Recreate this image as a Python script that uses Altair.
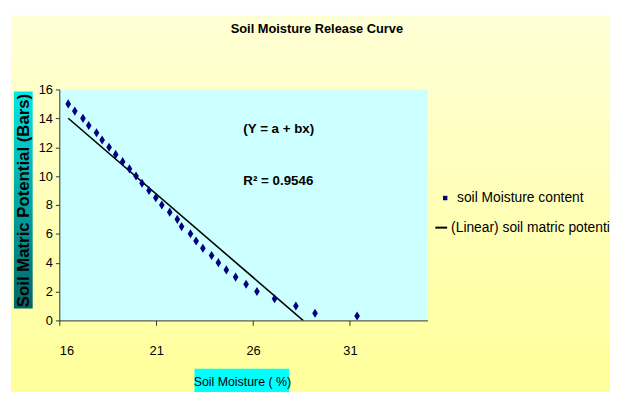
import altair as alt
import pandas as pd

# Data
soil_moisture = [16.46, 16.80, 17.22, 17.52, 17.92, 18.21, 18.57, 18.91, 19.27, 19.62,
                 19.96, 20.27, 20.63, 20.98, 21.29, 21.70, 22.09, 22.31, 22.77, 23.06,
                 23.41, 23.86, 24.21, 24.62, 25.10, 25.64, 26.20, 27.11, 28.21, 29.20, 31.37]
matric_potential = [15, 14.5, 14, 13.5, 13, 12.5, 12, 11.5, 11, 10.5,
                    10, 9.5, 9, 8.5, 8, 7.5, 7, 6.5, 6, 5.5,
                    5, 4.5, 4, 3.5, 3, 2.5, 2, 1.5, 1, 0.5, 0.3]
x_ticks = [16, 21, 26, 31]
y_ticks = [0, 2, 4, 6, 8, 10, 12, 14, 16]
series_points = "soil Moisture content"
series_line = "(Linear) soil matric potential"
title_text = "Soil Moisture Release Curve"
annotations = ["(Y = a + bx)", "R² = 0.9546"]

df = pd.DataFrame({"x": soil_moisture, "y": matric_potential, "s": series_points})

FONT = "Liberation Sans, Arial, sans-serif"
W, H = 373, 234

xs = alt.Scale(domain=[16, 35], nice=False, zero=False)
ys = alt.Scale(domain=[0, 16], nice=False)

x_axis = alt.Axis(values=x_ticks, title="Soil Moisture ( %)", grid=False,
                  tickSize=5, labelPadding=20, titleX=185, titleY=62,
                  titleBaseline="middle", zindex=1, labelOverlap=False)
y_axis = alt.Axis(values=y_ticks, title="Soil Matric Potential (Bars)", grid=False,
                  tickSize=4, labelPadding=3, titleX=-36, titleY=112,
                  titleAngle=-90, titleBaseline="middle", zindex=1,
                  labelOverlap=False, titleFontSize=17, titleFontWeight="bold")

one = alt.Data(values=[{}])

bg = alt.Chart(one).mark_rect(
    color=alt.LinearGradient(gradient="linear", x1=0, x2=0, y1=0, y2=1,
                             stops=[alt.GradientStop(color="#FFFFD6", offset=0),
                                    alt.GradientStop(color="#FFFF9A", offset=1)])
).encode(x=alt.value(-49), x2=alt.value(560), y=alt.value(-75), y2=alt.value(310))

plotbg = alt.Chart(one).mark_rect(color="#CCFFFF").encode(
    x=alt.value(0), x2=alt.value(W), y=alt.value(0), y2=alt.value(H))

ybox = alt.Chart(one).mark_rect(
    color=alt.LinearGradient(gradient="linear", x1=0, x2=0, y1=0, y2=1,
                             stops=[alt.GradientStop(color="#00E8E8", offset=0),
                                    alt.GradientStop(color="#006464", offset=1)])
).encode(x=alt.value(-46), x2=alt.value(-27), y=alt.value(2), y2=alt.value(222))

xbox = alt.Chart(one).mark_rect(color="#00FFFF").encode(
    x=alt.value(137), x2=alt.value(233), y=alt.value(283), y2=alt.value(310))

title = alt.Chart(pd.DataFrame({"t": [title_text]})).mark_text(
    font=FONT, fontSize=13, fontWeight="bold", color="#000000",
    align="center", baseline="middle"
).encode(x=alt.value(261), y=alt.value(-61), text="t:N")

base = alt.Chart(df)

points = base.mark_point(
    shape="M0,-1L0.62,0L0,1L-0.62,0Z", filled=True, size=85, opacity=1
).encode(
    x=alt.X("x:Q", scale=xs, axis=x_axis),
    y=alt.Y("y:Q", scale=ys, axis=y_axis),
    fill=alt.Fill("s:N",
                  scale=alt.Scale(domain=[series_points], range=["#000080"]),
                  legend=alt.Legend(title=None, orient="none", legendX=384, legendY=103,
                                    symbolType="square", symbolSize=20, labelOffset=5,
                                    padding=0)),
)

trend = base.transform_regression("x", "y").transform_calculate(
    s=f"'{series_line}'"
).mark_line(strokeWidth=1.6, clip=True).encode(
    x=alt.X("x:Q", scale=xs, axis=x_axis),
    y=alt.Y("y:Q", scale=ys, axis=y_axis),
    stroke=alt.Stroke("s:N",
                      scale=alt.Scale(domain=[series_line], range=["#000000"]),
                      legend=alt.Legend(title=None, orient="none", legendX=380, legendY=133,
                                        symbolType="stroke", symbolSize=144,
                                        symbolStrokeWidth=2, labelOffset=3, padding=0,
                                        labelLimit=400)),
)

ann = alt.Chart(pd.DataFrame({
    "x": [25.5, 25.5], "y": [13.26, 9.64], "t": annotations
})).mark_text(align="left", baseline="middle", font=FONT, fontSize=13.5,
              fontWeight="bold", color="#000000").encode(
    x=alt.X("x:Q", scale=xs, axis=x_axis),
    y=alt.Y("y:Q", scale=ys, axis=y_axis), text="t:N")

chart = alt.layer(bg, plotbg, ybox, xbox, title, trend, points, ann).resolve_legend(
    fill="independent", stroke="independent"
).properties(
    width=W, height=H,
    autosize=alt.AutoSizeParams(type="none"),
    padding={"left": 52, "top": 80, "right": 185, "bottom": 70},
).configure_view(strokeWidth=0).configure_axis(
    domainColor="#333333", tickColor="#333333", labelColor="#000000",
    titleColor="#000000", labelFont=FONT, labelFontSize=13,
    titleFont=FONT, titleFontSize=12.5, titleFontWeight="normal",
).configure_legend(labelFont=FONT, labelFontSize=14, labelColor="#000000")

chart.save("out.html", embed_options={"renderer": "svg", "actions": False})
